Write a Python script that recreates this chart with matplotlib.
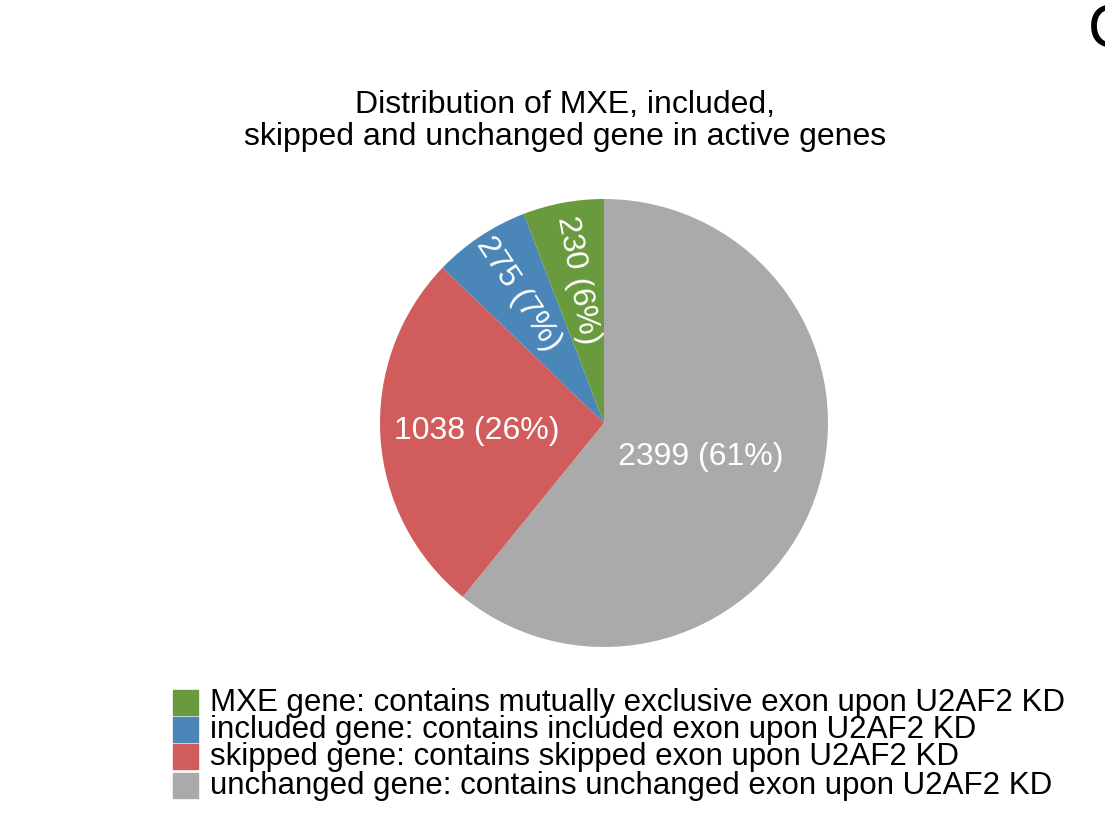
import matplotlib
matplotlib.use("Agg")
import matplotlib.pyplot as plt
import numpy as np

categories = ["unchanged", "skipped", "included", "MXE"]
values = [2399, 1038, 275, 230]
percents = ["61%", "26%", "7%", "6%"]
colors = ["#aaaaaa", "#d05c5c", "#4a87b8", "#6a9a3e"]
legend_labels = [
    "MXE gene: contains mutually exclusive exon upon U2AF2 KD",
    "included gene: contains included exon upon U2AF2 KD",
    "skipped gene: contains skipped exon upon U2AF2 KD",
    "unchanged gene: contains unchanged exon upon U2AF2 KD",
]
legend_colors = ["#6a9a3e", "#4a87b8", "#d05c5c", "#aaaaaa"]

W, H = 1105, 833
fig = plt.figure(figsize=(W/100, H/100), dpi=100)
ax = fig.add_axes([0, 0, 1, 1])
plt.rcParams['font.family'] = ['Liberation Sans', 'DejaVu Sans']

cx, cy, R = 604, H - 423, 224
wedges, _ = ax.pie(values, colors=colors, startangle=90, counterclock=False,
                   center=(cx, cy), radius=R, frame=True)
ax.set_xlim(0, W); ax.set_ylim(0, H); ax.set_aspect("equal"); ax.axis("off")

dists = [0.46, 0.57, 0.69, 0.65]
rots = [0, 0, None, None]
for w, v, p, d, rt in zip(wedges, values, percents, dists, rots):
    ang = (w.theta1 + w.theta2) / 2
    x = cx + d * R * np.cos(np.radians(ang))
    y = cy + d * R * np.sin(np.radians(ang))
    rot = rt if rt is not None else ang - 180
    ax.text(x, y, f"{v} ({p})", color="white", fontsize=23, ha="center", va="center",
            rotation=rot, rotation_mode="anchor")

ax.text(565, H - 121, "Distribution of MXE, included,\nskipped and unchanged gene in active genes",
        ha="center", va="center", fontsize=23, linespacing=1.05)
ax.text(1088, H - 32, "C", fontsize=44, ha="left", va="center")

ys = [703, 730, 757, 786]
for yy, lab, c in zip(ys, legend_labels, legend_colors):
    ax.add_patch(plt.Rectangle((173, H - yy - 12), 25, 25, color=c))
    ax.text(210, H - yy, lab, fontsize=22.5, ha="left", va="center")

fig.savefig("out.png", dpi=100)
